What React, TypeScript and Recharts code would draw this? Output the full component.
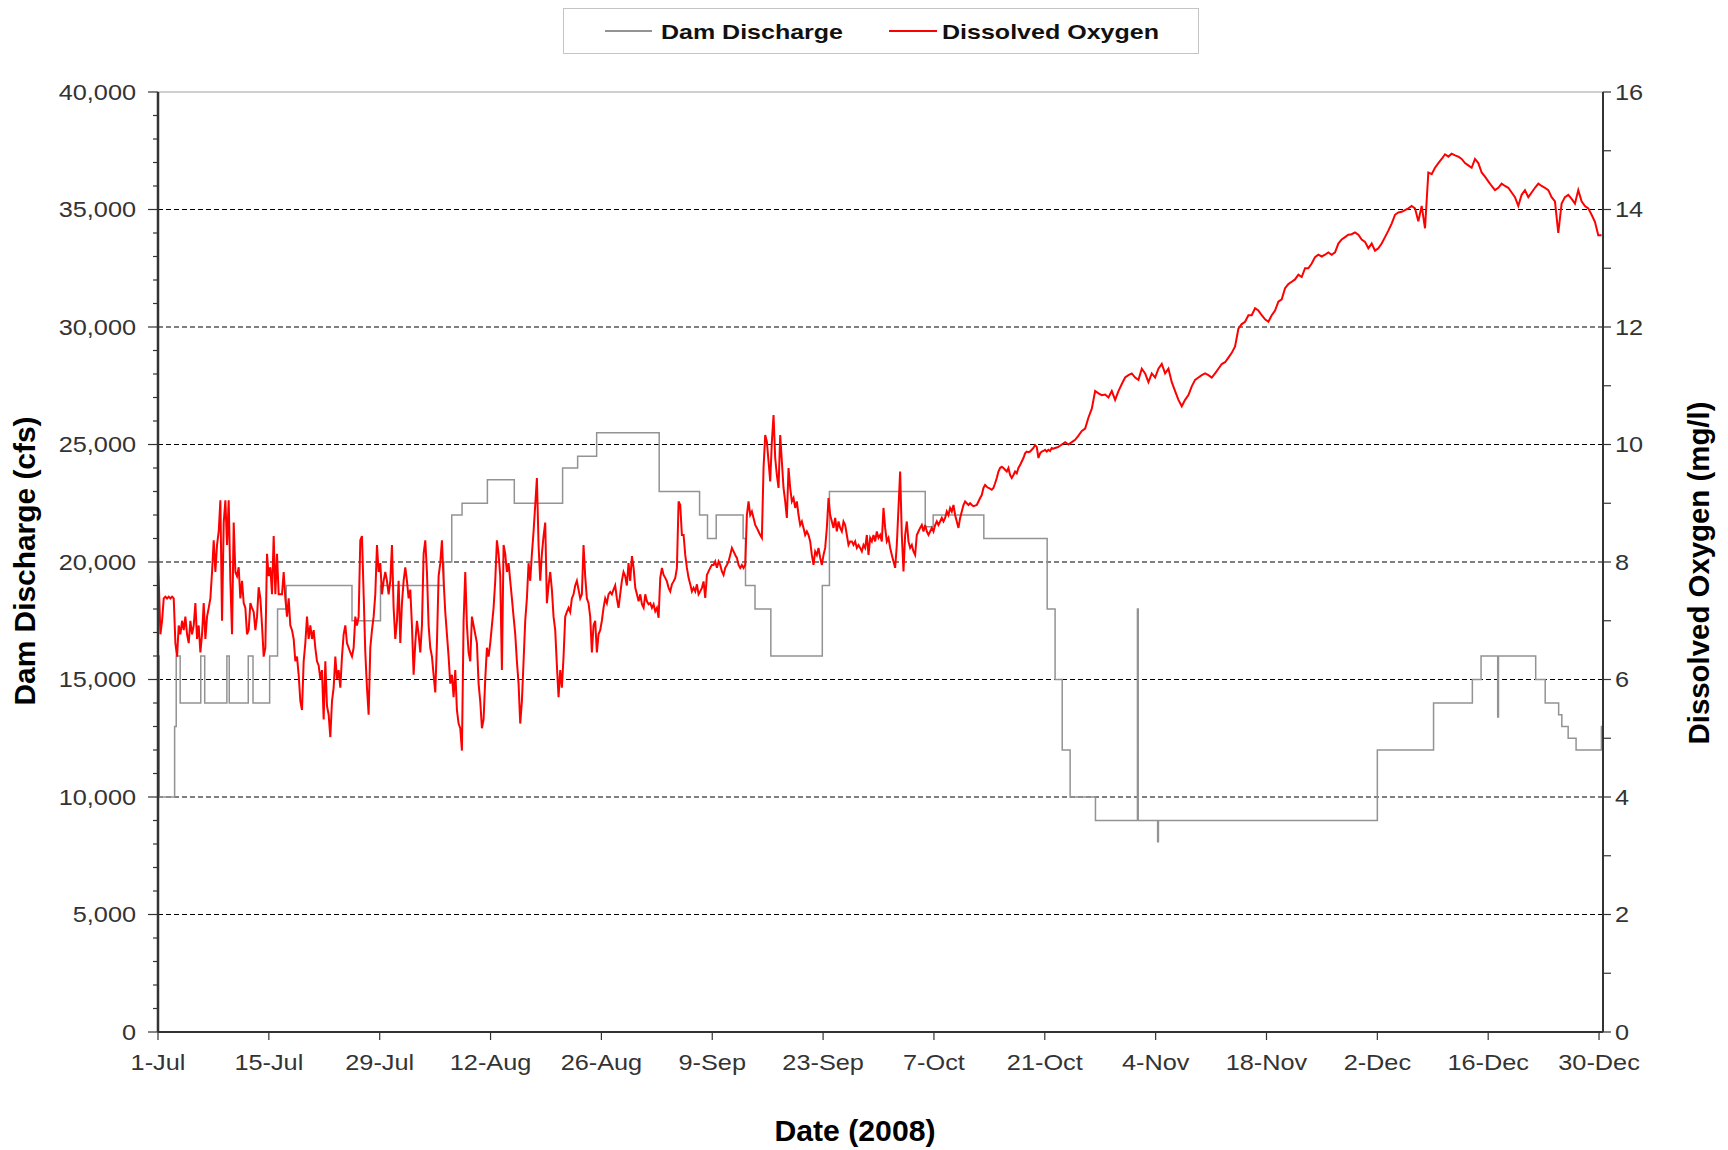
import { ComposedChart, Line, XAxis, YAxis, ReferenceLine } from "recharts"

const FONT = "'Liberation Sans', Arial, sans-serif"
const STRETCH = 1.15

// x axis: days since 1-Jul-2008
const dayTicks = [0, 14, 28, 42, 56, 70, 84, 98, 112, 126, 140, 154, 168, 182]
const dayLabels = [
  "1-Jul", "15-Jul", "29-Jul", "12-Aug", "26-Aug", "9-Sep", "23-Sep",
  "7-Oct", "21-Oct", "4-Nov", "18-Nov", "2-Dec", "16-Dec", "30-Dec",
]

const cfsTicks = [
  0, 1000, 2000, 3000, 4000, 5000, 6000, 7000, 8000, 9000, 10000,
  11000, 12000, 13000, 14000, 15000, 16000, 17000, 18000, 19000, 20000,
  21000, 22000, 23000, 24000, 25000, 26000, 27000, 28000, 29000, 30000,
  31000, 32000, 33000, 34000, 35000, 36000, 37000, 38000, 39000, 40000,
]
const doTicks = [0, 1, 2, 3, 4, 5, 6, 7, 8, 9, 10, 11, 12, 13, 14, 15, 16]
const gridValues = [5000, 10000, 15000, 20000, 25000, 30000, 35000]

// dam discharge, step changes [day, cfs]
const dischargeSteps: [number, number][] = [
  [0, 16000], [0.15, 10000], [2.1, 13000], [2.3, 16000], [2.8, 14000],
  [5.4, 16000], [5.9, 14000], [8.7, 16000], [9.0, 14000], [11.4, 16000],
  [12.0, 14000], [14.1, 16000], [15.1, 18000], [16.2, 19000], [24.5, 17500],
  [28.1, 19000], [36.1, 20000], [37.1, 22000], [38.4, 22500], [41.6, 23500],
  [45.0, 22500], [51.1, 24000], [53.0, 24500], [55.4, 25500], [63.3, 23000],
  [68.4, 22000], [69.4, 21000], [70.5, 22000], [73.9, 21000], [74.2, 19000],
  [75.4, 18000], [77.4, 16000], [83.9, 19000], [84.8, 23000], [96.9, 21500],
  [97.9, 22000], [104.3, 21000], [112.3, 18000], [113.3, 15000], [114.2, 12000],
  [115.2, 10000], [118.4, 9000], [123.7, 18000], [123.8, 9000], [126.25, 8100],
  [126.35, 9000], [154.0, 12000], [161.1, 14000], [166.0, 15000], [167.1, 16000],
  [169.2, 13400], [169.3, 16000], [174.0, 15000], [175.2, 14000], [176.9, 13500],
  [177.3, 13000], [178.1, 12500], [179.1, 12000], [182.3, 13000], [182.5, 13000],
]

// dissolved oxygen (mg/l), read on regular time grids
const firstDO = 8.1
const julAugStart = 0.303
const julAugStep = 0.2104
const julAugDO = [
  6.77, 7.0, 7.38, 7.41, 7.38, 7.41, 7.38, 7.41, 7.38, 6.62, 6.39, 6.92, 6.77, 7.0, 6.84, 7.07,
  6.77, 6.62, 7.0, 6.77, 6.92, 7.3, 6.69, 6.92, 6.46, 6.77, 7.3, 6.69, 7.07, 7.22, 7.38, 7.83,
  8.37, 7.83, 8.29, 8.52, 9.05, 7.0, 8.67, 9.05, 8.29, 9.05, 7.68, 6.77, 8.67, 7.83, 7.76, 7.91,
  7.38, 7.68, 7.3, 7.22, 6.77, 6.84, 7.3, 7.22, 7.15, 6.84, 7.07, 7.57, 7.38, 6.92, 6.39, 6.54,
  8.14, 7.76, 7.91, 7.45, 8.44, 7.45, 8.14, 7.45, 7.45, 7.45, 7.83, 7.38, 7.07, 7.38, 6.92, 6.84,
  6.69, 6.31, 6.39, 6.08, 5.63, 5.48, 6.31, 6.62, 7.07, 6.69, 6.92, 6.69, 6.84, 6.54, 6.31, 6.24,
  6.01, 6.16, 5.32, 6.31, 5.55, 5.4, 5.02, 5.63, 5.86, 6.39, 6.01, 6.16, 5.86, 6.39, 6.77, 6.92,
  6.62, 6.54, 6.46, 6.39, 6.54, 7.07, 6.92, 7.07, 8.37, 8.44, 7.45, 6.46, 5.86, 5.4, 6.54, 6.84,
  7.07, 7.45, 8.29, 7.83, 7.98, 7.45, 7.68, 7.83, 7.68, 7.45, 7.68, 8.29, 7.22, 6.69, 7.0, 7.68,
  6.62, 7.3, 7.68, 7.91, 7.68, 7.38, 7.53, 6.92, 6.08, 6.62, 7.0, 6.77, 6.46, 6.92, 8.14, 8.37,
  7.83, 6.92, 6.54, 6.39, 6.08, 5.78, 6.62, 7.76, 7.98, 8.37, 7.68, 7.15, 6.77, 6.39, 5.93, 6.08,
  5.7, 6.16, 5.48, 5.25, 5.17, 4.79, 7.0, 7.83, 6.92, 6.46, 6.31, 7.07, 6.92, 6.77, 6.62, 5.93,
  5.63, 5.17, 5.32, 6.01, 6.54, 6.39, 6.62, 6.92, 7.22, 7.68, 8.37, 8.14, 7.76, 6.16, 8.29, 8.14,
  7.83, 7.98, 7.68, 7.38, 7.07, 6.77, 6.31, 5.93, 5.25, 5.63, 6.31, 7.0, 7.38, 7.98, 7.68, 8.14,
  8.52, 8.97, 9.43, 8.29, 7.68, 8.14, 8.44, 8.67, 7.3, 7.6, 7.83, 7.53, 7.07, 6.84, 6.24, 5.7,
  6.16, 5.86, 6.39, 7.07, 7.15, 7.22, 7.15, 7.38, 7.45, 7.6, 7.68, 7.53, 7.38, 7.45, 8.29, 7.76,
  7.38, 7.3, 7.07, 6.46, 6.92, 7.0, 6.46, 6.77, 6.84, 7.0, 7.22, 7.38, 7.3, 7.45, 7.49, 7.45,
  7.53, 7.6, 7.38, 7.22, 7.45, 7.68, 7.83, 7.76, 7.6, 7.98, 7.68,
]

const sepOctStart = 59.857
const sepOctStep = 0.2104
const sepOctDO = [
  8.1, 7.9, 7.56, 7.45, 7.33, 7.45, 7.28, 7.22, 7.45, 7.33, 7.28, 7.3, 7.22, 7.28, 7.16, 7.22,
  7.05, 7.73, 7.9, 7.78, 7.73, 7.67, 7.56, 7.5, 7.62, 7.67, 7.73, 7.9, 9.03, 8.97, 8.46, 8.46,
  8.12, 7.9, 7.73, 7.62, 7.5, 7.56, 7.5, 7.62, 7.45, 7.5, 7.56, 7.67, 7.39, 7.78, 7.84, 7.9,
  7.95, 7.95, 8.01, 7.9, 8.01, 7.95, 7.84, 7.78, 7.9, 7.95, 8.01, 8.12, 8.24, 8.18, 8.12, 8.07,
  7.95, 7.9, 7.95, 7.9, 7.95, 8.8, 9.03, 8.8, 8.86, 8.75, 8.63, 8.58, 8.52, 8.46, 8.41, 9.6,
  10.16, 10.05, 9.71, 9.37, 10.05, 10.5, 9.77, 9.48, 9.26, 10.16, 9.71, 9.26, 9.03, 8.75, 9.6, 9.26,
  9.03, 9.09, 8.92, 9.03, 8.8, 8.63, 8.69, 8.58, 8.46, 8.52, 8.46, 8.35, 8.12, 7.95, 8.18, 8.12,
  8.24, 8.07, 7.95, 8.12, 8.24, 8.58, 9.09, 8.8, 8.69, 8.58, 8.75, 8.52, 8.69, 8.58, 8.52, 8.69,
  8.63, 8.46, 8.29, 8.35, 8.35, 8.29, 8.35, 8.24, 8.29, 8.24, 8.18, 8.29, 8.24, 8.46, 8.12, 8.41,
  8.35, 8.46, 8.35, 8.52, 8.41, 8.46, 8.35, 8.92, 8.58, 8.35, 8.41, 8.24, 8.12, 8.01, 7.9, 8.29,
  8.92, 9.54, 8.46, 7.84, 8.46, 8.69, 8.35, 8.24, 8.29, 8.18, 8.12, 8.46, 8.52, 8.58, 8.63, 8.52,
  8.63, 8.52, 8.46, 8.52, 8.58, 8.52, 8.63, 8.69, 8.63, 8.69, 8.75, 8.69, 8.75, 8.86, 8.8, 8.92,
  8.86, 8.97, 8.8, 8.69, 8.58, 8.75, 8.86, 8.97, 9.03, 9.0, 8.97, 9.0, 8.97, 8.95, 8.96, 8.97,
  9.03, 9.09, 9.14, 9.26, 9.31, 9.28, 9.26, 9.25, 9.23, 9.26, 9.34, 9.43, 9.54, 9.6, 9.62, 9.6,
  9.57, 9.54, 9.6, 9.48, 9.43, 9.48, 9.54, 9.51, 9.6, 9.65, 9.71, 9.77, 9.85, 9.88, 9.87, 9.88,
  9.91, 9.94, 9.99, 9.96, 9.77, 9.85, 9.88, 9.89, 9.91, 9.88, 9.91, 9.89, 9.94, 9.93, 9.94, 9.95,
  9.96,
]

const octDecStart = 114.15
const octDecStep = 0.4208
const octDecDO = [
  10.0, 10.04, 10.0, 10.04, 10.08, 10.15, 10.23, 10.27, 10.46, 10.61, 10.91, 10.87, 10.84, 10.85,
  10.8, 10.91, 10.76, 10.91, 11.03, 11.14, 11.18, 11.21, 11.14, 11.1, 11.29, 11.21, 11.06, 11.21,
  11.14, 11.29, 11.37, 11.21, 11.29, 11.06, 10.91, 10.76, 10.65, 10.76, 10.84, 10.99, 11.1, 11.14,
  11.18, 11.21, 11.18, 11.14, 11.21, 11.29, 11.37, 11.4, 11.48, 11.56, 11.67, 11.97, 12.05, 12.09,
  12.2, 12.2, 12.32, 12.28, 12.2, 12.13, 12.09, 12.2, 12.28, 12.43, 12.47, 12.66, 12.73, 12.77,
  12.81, 12.89, 12.85, 13.0, 13.0, 13.08, 13.19, 13.23, 13.2, 13.23, 13.27, 13.23, 13.27, 13.42,
  13.49, 13.53, 13.57, 13.58, 13.61, 13.57, 13.49, 13.45, 13.34, 13.42, 13.3, 13.34, 13.42, 13.53,
  13.64, 13.76, 13.91, 13.95, 13.96, 13.99, 14.02, 14.06, 14.02, 13.8,
]

const decStart = 159.6
const decStep = 0.4208
const decDO = [
  14.06, 13.68, 14.63, 14.6, 14.71, 14.79, 14.86, 14.94, 14.9, 14.95, 14.92, 14.9, 14.86, 14.79,
  14.75, 14.71, 14.86, 14.79, 14.63, 14.56, 14.48, 14.4, 14.33, 14.37, 14.44, 14.4, 14.37, 14.29,
  14.21, 14.06, 14.25, 14.33, 14.21, 14.29, 14.37, 14.44, 14.4, 14.37, 14.33, 14.21, 14.14, 13.6,
  14.1, 14.21, 14.25, 14.18, 14.1, 14.33, 14.14, 14.06, 14.02, 13.91, 13.79, 13.56, 13.56,
]

const dischargeData = dischargeSteps.map(([day, cfs]) => ({ day, cfs }))

const oxygenData = [
  { day: 0, do: firstDO },
  ...julAugDO.map((v, i) => ({ day: julAugStart + i * julAugStep, do: v })),
  ...sepOctDO.map((v, i) => ({ day: sepOctStart + i * sepOctStep, do: v })),
  ...octDecDO.map((v, i) => ({ day: octDecStart + i * octDecStep, do: v })),
  ...decDO.map((v, i) => ({ day: decStart + i * decStep, do: v })),
]

function CfsTick(props: any) {
  const { x, y, payload } = props
  const v = payload.value
  const major = v % 5000 === 0
  return (
    <g>
      <line x1={x - (major ? 10 : 5)} x2={x} y1={y} y2={y} stroke="#333" strokeWidth={1.2} />
      {major && (
        <text
          transform={`translate(${x - 22},${y}) scale(${STRETCH},1)`}
          textAnchor="end"
          dy="0.36em"
          fontSize={22}
          fontFamily={FONT}
          fill="#333"
        >
          {v.toLocaleString("en-US")}
        </text>
      )}
    </g>
  )
}

function DoTick(props: any) {
  const { x, y, payload } = props
  const v = payload.value
  return (
    <g>
      <line x1={x} x2={x + 8} y1={y} y2={y} stroke="#333" strokeWidth={1.2} />
      {v % 2 === 0 && (
        <text
          transform={`translate(${x + 12},${y}) scale(${STRETCH},1)`}
          textAnchor="start"
          dy="0.36em"
          fontSize={22}
          fontFamily={FONT}
          fill="#333"
        >
          {v}
        </text>
      )}
    </g>
  )
}

function DayTick(props: any) {
  const { x, y, payload } = props
  const label = dayLabels[dayTicks.indexOf(payload.value)]
  return (
    <g>
      <line x1={x} x2={x} y1={y} y2={y + 8} stroke="#333" strokeWidth={1.2} />
      <text
        transform={`translate(${x},${y + 38}) scale(${STRETCH},1)`}
        textAnchor="middle"
        fontSize={22}
        fontFamily={FONT}
        fill="#333"
      >
        {label}
      </text>
    </g>
  )
}

export default function App() {
  return (
    <div style={{ position: "absolute", left: 0, top: 0, width: 1728, height: 1150, background: "#fff" }}>
      <ComposedChart width={1728} height={1150} margin={{ top: 92, right: 0, bottom: 0, left: 0 }}>
        <XAxis
          dataKey="day"
          type="number"
          domain={[0, 182.5]}
          allowDataOverflow
          ticks={dayTicks}
          interval={0}
          height={118}
          tickSize={0}
          tickMargin={0}
          tickLine={false}
          tick={(p: any) => <DayTick {...p} />}
          axisLine={{ stroke: "#333", strokeWidth: 2 }}
        />
        <YAxis
          yAxisId="q"
          orientation="left"
          width={158}
          domain={[0, 40000]}
          allowDataOverflow
          ticks={cfsTicks}
          interval={0}
          tickSize={0}
          tickMargin={0}
          tickLine={false}
          tick={(p: any) => <CfsTick {...p} />}
          axisLine={{ stroke: "#333", strokeWidth: 2.5 }}
        />
        <YAxis
          yAxisId="do"
          orientation="right"
          width={125}
          domain={[0, 16]}
          allowDataOverflow
          ticks={doTicks}
          interval={0}
          tickSize={0}
          tickMargin={0}
          tickLine={false}
          tick={(p: any) => <DoTick {...p} />}
          axisLine={{ stroke: "#333", strokeWidth: 2 }}
        />
        <ReferenceLine yAxisId="q" y={40000} stroke="#a0a0a0" strokeWidth={1.2} />
        {gridValues.map((v) => (
          <ReferenceLine key={v} yAxisId="q" y={v} stroke="#000" strokeWidth={1.1} strokeDasharray="5 3" />
        ))}
        <Line
          yAxisId="q"
          data={dischargeData}
          dataKey="cfs"
          type="stepAfter"
          stroke="#939393"
          strokeWidth={1.5}
          dot={false}
          isAnimationActive={false}
        />
        <Line
          yAxisId="do"
          data={oxygenData}
          dataKey="do"
          type="linear"
          stroke="#ff0000"
          strokeWidth={2}
          dot={false}
          isAnimationActive={false}
        />
      </ComposedChart>

      <svg
        width={1728}
        height={1150}
        style={{ position: "absolute", left: 0, top: 0, pointerEvents: "none" }}
      >
        <rect x={563.5} y={8.5} width={635} height={45} fill="#fff" stroke="#c4c4c4" />
        <line x1={605} x2={652} y1={31} y2={31} stroke="#939393" strokeWidth={2} />
        <text x={661} y={38.5} fontSize={21} fontWeight="bold" fontFamily={FONT} fill="#111" textLength={182} lengthAdjust="spacingAndGlyphs">
          Dam Discharge
        </text>
        <line x1={889} x2={937} y1={31} y2={31} stroke="#ff0000" strokeWidth={2} />
        <text x={942} y={38.5} fontSize={21} fontWeight="bold" fontFamily={FONT} fill="#111" textLength={217} lengthAdjust="spacingAndGlyphs">
          Dissolved Oxygen
        </text>

        <text
          transform="translate(35,561) rotate(-90)"
          textAnchor="middle"
          fontSize={30}
          fontWeight="bold"
          fontFamily={FONT}
          fill="#000"
          textLength={289}
          lengthAdjust="spacingAndGlyphs"
        >
          Dam Discharge (cfs)
        </text>
        <text
          transform="translate(1709,573) rotate(-90)"
          textAnchor="middle"
          fontSize={30}
          fontWeight="bold"
          fontFamily={FONT}
          fill="#000"
          textLength={343}
          lengthAdjust="spacingAndGlyphs"
        >
          Dissolved Oxygen (mg/l)
        </text>
        <text
          x={855}
          y={1141}
          textAnchor="middle"
          fontSize={30}
          fontWeight="bold"
          fontFamily={FONT}
          fill="#000"
          textLength={161}
          lengthAdjust="spacingAndGlyphs"
        >
          Date (2008)
        </text>
      </svg>
    </div>
  )
}
